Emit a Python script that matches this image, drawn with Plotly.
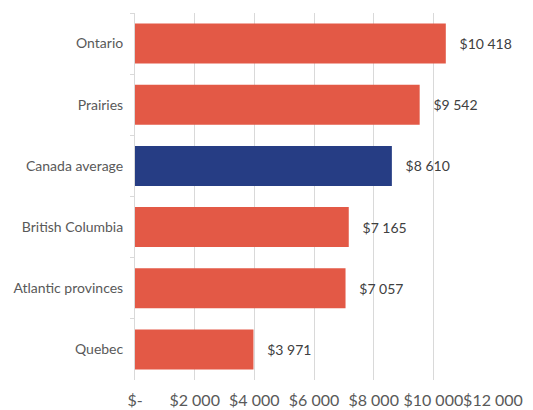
import plotly.graph_objects as go

regions = ["Ontario", "Prairies", "Canada average", "British Columbia", "Atlantic provinces", "Quebec"]
values = [10418, 9542, 8610, 7165, 7057, 3971]
highlight = "Canada average"
x_ticks = [0, 2000, 4000, 6000, 8000, 10000, 12000]
x_ticklabels = ["$-", "$2 000", "$4 000", "$6 000", "$8 000", "$10 000", "$12 000"]

RED = "#E35946"
BLUE = "#263D84"

colors = [BLUE if r == highlight else RED for r in regions]
labels = ["\u00a0\u00a0\u00a0$" + f"{v:,}".replace(",", " ") for v in values]

fig = go.Figure(go.Bar(
    x=values, y=regions, orientation="h",
    marker=dict(color=colors, line=dict(width=0)),
    text=labels, textposition="outside", cliponaxis=False,
    textfont=dict(family="Lato", size=14, color="#404040"),
))

fig.update_layout(
    width=533, height=410,
    margin=dict(l=135, r=40, t=13, b=30),
    paper_bgcolor="white", plot_bgcolor="white",
    bargap=0.346,
    showlegend=False,
    font=dict(family="Lato", color="#595959"),
)
fig.update_xaxes(
    range=[0, 12000], tickvals=x_ticks, ticktext=x_ticklabels,
    showgrid=True, gridcolor="#D9D9D9", gridwidth=1,
    zeroline=False, showline=False, automargin=False,
    tickfont=dict(family="Lato", size=16, color="#595959"),
    ticks="", ticklabelstandoff=9, tickangle=0,
)
fig.update_yaxes(
    categoryorder="array", categoryarray=regions, autorange="reversed",
    showline=True, linecolor="#D9D9D9", linewidth=1, automargin=False,
    ticks="outside", tickson="boundaries", ticklen=4, tickcolor="#D9D9D9",
    tickfont=dict(family="Lato", size=14, color="#595959"),
    ticklabelstandoff=8,
    showgrid=False,
)

fig.write_html("out.html")
